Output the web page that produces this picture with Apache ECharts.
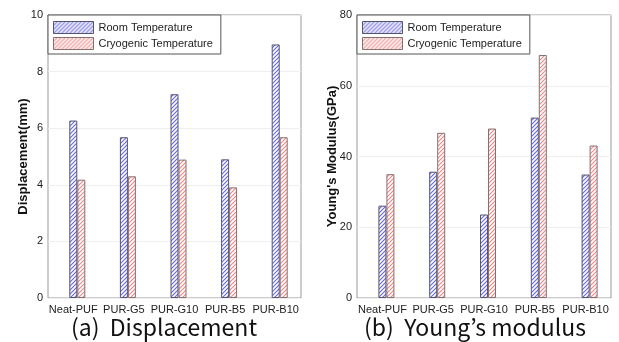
<!DOCTYPE html>
<html>
<head>
<meta charset="utf-8">
<script src="https://cdn.jsdelivr.net/npm/echarts@6/dist/echarts.min.js"></script>
<style>
html,body{margin:0;padding:0;background:#fff;}
#main{width:619px;height:342px;}
</style>
</head>
<body>
<div id="main"></div>
<script>
var categories = ['Neat-PUF', 'PUR-G5', 'PUR-G10', 'PUR-B5', 'PUR-B10'];
var dispRoom = [6.27, 5.68, 7.2, 4.9, 8.96];
var dispCryo = [4.18, 4.3, 4.89, 3.91, 5.68];
var modRoom = [26.1, 35.7, 23.6, 51.0, 34.9];
var modCryo = [35.0, 46.7, 47.9, 68.7, 43.1];
var dispTicks = [0, 10, 2];
var modTicks = [0, 80, 20];

// diagonal hatch fill
function hatch(color) {
    var c = document.createElement('canvas');
    c.width = 4; c.height = 4;
    var ctx = c.getContext('2d');
    ctx.fillStyle = '#fff';
    ctx.fillRect(0, 0, 4, 4);
    ctx.strokeStyle = color;
    ctx.lineWidth = 1.2;
    ctx.beginPath();
    ctx.moveTo(0, 4); ctx.lineTo(4, 0);
    ctx.moveTo(-1, 1); ctx.lineTo(1, -1);
    ctx.moveTo(3, 5); ctx.lineTo(5, 3);
    ctx.stroke();
    return { image: c, repeat: 'repeat' };
}
var blueFill = hatch('#6a6ae0');
var redFill = hatch('#ec8a8a');

var chart = echarts.init(document.getElementById('main'));

function makeSeries(idx, room, cryo) {
    return [
        { type: 'bar', name: 'spacer', xAxisIndex: idx, yAxisIndex: idx, barWidth: 8, barGap: '0%',
          data: categories.map(function () { return null; }), silent: true },
        { type: 'bar', name: 'Room Temperature', xAxisIndex: idx, yAxisIndex: idx, barWidth: 8, barGap: '0%',
          itemStyle: { color: blueFill, borderColor: '#55556e', borderWidth: 1 }, data: room },
        { type: 'bar', name: 'Cryogenic Temperature', xAxisIndex: idx, yAxisIndex: idx, barWidth: 8, barGap: '0%',
          itemStyle: { color: redFill, borderColor: '#857070', borderWidth: 1 }, data: cryo }
    ];
}

function yAxis(idx, t, name, gap) {
    return {
        type: 'value', gridIndex: idx, min: t[0], max: t[1], interval: t[2],
        name: name, nameLocation: 'middle', nameGap: gap, nameMoveOverlap: false,
        nameTextStyle: { fontFamily: 'Liberation Sans', fontSize: 13, fontWeight: 'bold', color: '#111' },
        axisLine: { show: false }, axisTick: { show: false },
        axisLabel: { margin: 5, fontFamily: 'Liberation Sans', fontSize: 11, color: '#222' },
        splitLine: { lineStyle: { color: '#eeeeee' } }
    };
}

function xAxis(idx) {
    return {
        type: 'category', gridIndex: idx, data: categories,
        axisLine: { show: false }, axisTick: { show: false },
        axisLabel: { margin: 6, interval: 0, fontFamily: 'Liberation Sans', fontSize: 11, color: '#222' }
    };
}

function legend(left) {
    return {
        left: left, top: 15, orient: 'vertical', icon: 'rect',
        data: ['Room Temperature', 'Cryogenic Temperature'],
        itemWidth: 40, itemHeight: 12, itemGap: 3,
        itemStyle: { borderWidth: 1 },
        padding: [6, 8, 4, 5],
        borderColor: '#555', borderWidth: 1, backgroundColor: '#fff',
        textStyle: { fontFamily: 'Liberation Sans', fontSize: 11, color: '#222' },
        selectedMode: false
    };
}

chart.setOption({
    animation: false,
    grid: [
        { left: 48, top: 15, width: 253, height: 283, show: true, borderColor: '#999', borderWidth: 1 },
        { left: 357, top: 15, width: 254, height: 283, show: true, borderColor: '#999', borderWidth: 1 }
    ],
    title: [
        { text: '(a)  Displacement', left: 159, top: 311, textAlign: 'center',
          textStyle: { fontFamily: 'Noto Sans CJK KR', fontSize: 23, fontWeight: 'normal', color: '#111' } },
        { text: '(b)  Young\u2019s modulus', left: 470, top: 311, textAlign: 'center',
          textStyle: { fontFamily: 'Noto Sans CJK KR', fontSize: 23, fontWeight: 'normal', color: '#111' } }
    ],
    legend: [legend(48), legend(357)],
    xAxis: [xAxis(0), xAxis(1)],
    yAxis: [yAxis(0, dispTicks, 'Displacement(mm)', 18), yAxis(1, modTicks, 'Young\'s Modulus(GPa)', 18)],
    series: makeSeries(0, dispRoom, dispCryo).concat(makeSeries(1, modRoom, modCryo))
});
</script>
</body>
</html>
